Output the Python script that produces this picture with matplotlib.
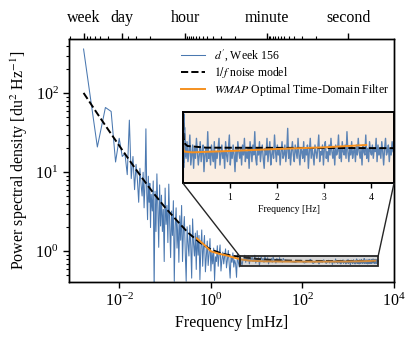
import numpy as np
import matplotlib
matplotlib.use("Agg")
import matplotlib.pyplot as plt
from matplotlib.patches import Rectangle, ConnectionPatch
from matplotlib.ticker import NullLocator, NullFormatter

plt.rcParams["font.family"] = ["Liberation Serif", "DejaVu Serif"]
plt.rcParams["mathtext.fontset"] = "stix"
plt.rcParams["axes.linewidth"] = 1.0

WEEK_S = 604800.0
DF_MHZ = 1e3 / WEEK_S  # fundamental frequency bin of one week of data [mHz]

# d', Week 156 -- first 30 harmonics, log10 power
harmonic_log_power = [
    2.56, 1.32, 1.82, 1.77, 1.13, 1.43, 1.20, 1.24, 0.97, 1.66,
    0.92, 1.20, 0.78, 1.10, 0.90, 0.62, 1.05, 0.85, 0.70, 1.00,
    0.55, 0.88, 1.55, 0.74, 0.40, 0.95, 0.62, 0.86, 0.30, 0.72,
]
# log10 f [mHz] from -1.28 to 0.70
mid_log_power = [
    0.51, 0.89, -0.47, 0.76, 0.25, 0.98, 0.57, 0.05, 0.84, 0.32,
    0.71, 0.25, 0.53, -0.13, 0.80, 0.34, 0.58, 0.11, 0.85, 0.34,
    -0.08, 0.51, 0.20, 0.64, -0.38, 0.31, 0.55, 0.04, 0.37, -0.14,
    0.45, 0.14, 0.58, -0.13, 0.26, 0.44, -0.02, -0.38, 0.31, 0.10,
    -0.06, 0.33, 0.07, -0.34, 0.41, 0.10, -0.06, 0.23, -0.23, 0.26,
    -0.05, 0.20, -0.36, 0.03, 0.27, -0.19, 0.06, 0.20, -0.26, -0.06,
    0.13, -0.18, -0.03, 0.16, -0.25, 0.00, -0.16, 0.04, -0.37, -0.07,
    -0.13, 0.07, -0.19, -0.04, 0.08, -0.25, -0.11, -0.01, -0.16, -0.07,
    0.03, -0.21, -0.11, 0.01, -0.16, -0.34, -0.06, -0.14, -0.02, -0.20,
    -0.11, -0.16, -0.33, -0.03, -0.14, -0.20, -0.07, -0.13, -0.18, -0.11,
]
# log10 f [mHz] from 0.72 to 1.60
high_log_power = [
    -0.10, -0.05, -0.14, -0.08, -0.12, -0.06, -0.16, -0.09, -0.11, -0.07,
    -0.13, -0.10, -0.05, -0.15, -0.09, -0.12, -0.08, -0.18, -0.10, -0.07,
    -0.12, -0.09, -0.14, -0.06, -0.11, -0.13, -0.08, -0.16, -0.10, -0.12,
    -0.09, -0.14, -0.07, -0.12, -0.10, -0.15, -0.09, -0.11, -0.13, -0.08,
    -0.12, -0.10, -0.14, -0.09, -0.11,
]
inset_power = [
    .75, .72, .77, .71, .74, .79, .70, .73, .76, .69, .75, .72, .78, .74, .70, .73, .77, .71, .74, .76,
    .68, .73, .75, .71, .80, .72, .74, .70, .76, .73, .71, .77, .69, .74, .72, .75, .78, .70, .73, .76,
    .72, .74, .69, .77, .73, .71, .75, .79, .70, .74, .72, .76, .73, .68, .75, .71, .77, .74, .72, .75,
    .70, .76, .73, .78, .71, .74, .72, .75, .69, .77, .74, .71, .76, .73, .80, .72, .70, .75, .73, .77,
    .71, .74, .76, .72, .69, .75, .73, .78, .71, .74, .77, .70, .73, .75, .72, .79, .74, .71, .76, .73,
    .75, .70, .74, .77, .72, .73, .76, .71, .74, .81, .72, .75, .70, .74, .77, .73, .71, .76, .74, .72,
    .78, .73, .70, .75, .74, .72, .77, .71, .75, .73, .76, .69, .74, .78, .72, .75, .73, .70, .76, .74,
    .72, .75, .79, .71, .74, .73, .76, .70, .75, .77, .72, .74, .71, .76, .73, .78, .74, .72, .75, .70,
    .76, .73, .74, .79, .72, .75, .71, .77, .74, .73, .76, .72, .80, .74, .71, .75, .73, .77, .72, .74,
    .75, .71, .76, .73, .78, .74, .72, .75, .70, .76, .74, .73, .79, .72, .75, .71, .77, .74, .73, .76,
    .72, .75, .74, .78, .71, .76, .73, .75, .72, .77, .74, .70, .75, .78, .73, .74, .76, .71, .75, .73,
    .77, .74,
]

# 1/f noise model [mHz], [du^2 Hz^-1]
model_freq = [1.653e-3, 3.16e-3, 5.62e-3, 0.01, 0.0178, 0.0316, 0.0562, 0.1, 0.178,
              0.316, 0.562, 1.0, 1.78, 3.16, 4.3, 6.0, 10.0, 20.0, 50.0, 100.0, 500.0, 4490.0]
model_power = [101, 57.4, 35.1, 21.6, 13.4, 8.43, 5.41, 3.58, 2.47,
               1.72, 1.30, 1.05, 0.93, 0.87, 0.858, 0.831, 0.802, 0.778, 0.763, 0.757, 0.752, 0.7505]

# WMAP optimal time-domain filter
filter_freq = [0.49, 0.7, 1.0, 1.5, 2.3, 3.0, 4.5, 7.0, 15.0, 40.0, 200.0, 1000.0, 2000.0, 3000.0, 3900.0]
filter_power = [1.46, 1.22, 1.00, 0.93, 0.88, 0.84, 0.79, 0.76, 0.745, 0.74, 0.738, 0.742, 0.748, 0.753, 0.760]

top_labels = ["week", "day", "hour", "minute", "second"]
top_periods = [604800, 86400, 3600, 60, 1]
minor_periods = ([2 * 604800] + [d * 86400 for d in (6, 5, 4, 3, 2)]
                 + [h * 3600 for h in (18, 12, 6)]
                 + [m * 60 for m in range(55, 0, -5)]
                 + [s for s in range(55, 0, -5)])

BLUE = "#4a78b0"
ORANGE = "#f5901f"

freq = np.concatenate([
    DF_MHZ * np.arange(1, len(harmonic_log_power) + 1),
    np.logspace(-1.28, 0.70, len(mid_log_power)),
    np.logspace(0.72, 1.60, len(high_log_power)),
    1e3 * (0.05 + 0.02 * np.arange(len(inset_power))),
])
power = np.concatenate([
    10 ** np.array(harmonic_log_power),
    10 ** np.array(mid_log_power),
    10 ** np.array(high_log_power),
    np.array(inset_power),
])

xlim = (10 ** -3.10, 1e4)
ylim = (10 ** -0.389, 10 ** 2.687)
zoom_x = (4.3, 4490.0)      # mHz
zoom_y = (0.645, 0.86)

fig = plt.figure(figsize=(4.16, 3.41), dpi=100)
ax = fig.add_axes([69 / 416, 59 / 341, 325 / 416, 243 / 341])

ax.loglog(freq, power, color=BLUE, lw=0.75, label="$d'$, Week 156", zorder=2)
ax.loglog(model_freq, model_power, "k--", lw=1.4, label="$1/f$ noise model", zorder=3)
ax.loglog(filter_freq, filter_power, color=ORANGE, lw=1.4,
          label=r"$\mathit{WMAP}$ Optimal Time-Domain Filter", zorder=4)
ax.set_xlim(*xlim)
ax.set_ylim(*ylim)
ax.set_xticks([1e-2, 1, 1e2, 1e4])
ax.xaxis.set_minor_locator(NullLocator())
ax.tick_params(which="major", labelsize=11.5, length=4, width=1.0)
ax.tick_params(which="minor", length=2.2, width=0.8)
ax.set_xlabel("Frequency [mHz]", fontsize=11.5)
ax.set_ylabel("Power spectral density [du$^2$ Hz$^{-1}$]", fontsize=11.5)

ax.add_patch(Rectangle((zoom_x[0], zoom_y[0]), zoom_x[1] - zoom_x[0], zoom_y[1] - zoom_y[0],
                       facecolor=(0.5, 0.5, 0.5, 0.3), edgecolor="0.15", lw=1.3, zorder=5))

ax.legend(loc="upper left", bbox_to_anchor=(0.33, 0.985), frameon=False, fontsize=8.5,
          handlelength=2.0, handletextpad=0.8, labelspacing=0.15, borderaxespad=0)

# top axis: periods
ax_top = ax.twiny()
ax_top.set_xscale("log")
ax_top.set_xlim(1e3 / xlim[0], 1e3 / xlim[1])
ax_top.set_xticks(top_periods, top_labels)
ax_top.set_xticks(minor_periods, minor=True)
ax_top.xaxis.set_minor_formatter(NullFormatter())
ax_top.tick_params(which="major", labelsize=11.5, length=4.5, width=1.0, pad=5)
ax_top.tick_params(which="minor", length=2.2, width=0.8)

# inset
axins = fig.add_axes([183 / 416, 157.7 / 341, 211 / 416, 71.6 / 341])
axins.set_facecolor("#faeee3")
axins.plot(freq / 1e3, power, color=BLUE, lw=1.0, alpha=0.9)
axins.plot(np.array(model_freq) / 1e3, model_power, "k--", lw=1.4)
axins.plot(np.array(filter_freq) / 1e3, filter_power, color=ORANGE, lw=1.4)
axins.set_xlim(zoom_x[0] / 1e3, zoom_x[1] / 1e3)
axins.set_ylim(*zoom_y)
axins.set_yticks([])
axins.set_xticks([1, 2, 3, 4])
axins.tick_params(labelsize=7, length=3.5, width=1.0)
axins.set_xlabel("Frequency [Hz]", fontsize=7, labelpad=2)
for s in axins.spines.values():
    s.set_linewidth(1.4)

for corner_ins, corner_x in ((0, zoom_x[0]), (1, zoom_x[1])):
    con = ConnectionPatch(xyA=(corner_ins, 0), coordsA=axins.transAxes,
                          xyB=(corner_x, zoom_y[1]), coordsB=ax.transData,
                          color="0.15", lw=1.0)
    fig.add_artist(con)

fig.savefig("out.png", dpi=100)
